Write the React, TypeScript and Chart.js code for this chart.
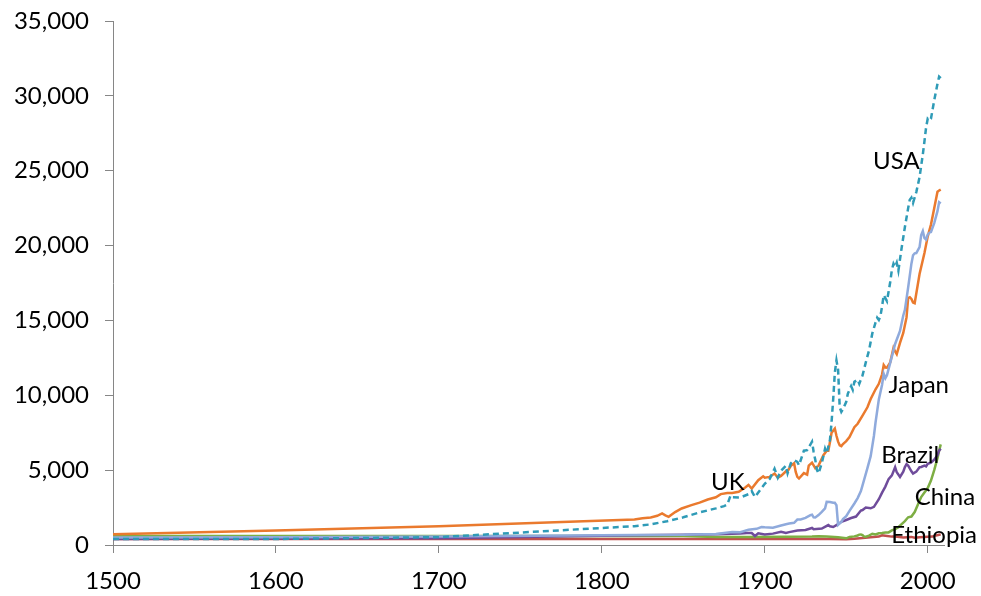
import React, { useEffect, useRef } from "react";
import { Chart, registerables } from "chart.js";

Chart.register(...registerables);

// ---- Data (GDP per capita) ----
const usaYears = [1500,1600,1700,1820,1830,1840,1850,1860,1870,1875,1877,1879,1880,1885,1890,1892,1894,1896,1900,1903,1906,1908,1910,1913,1914,1916,1918,1920,1921,1924,1926,1929,1930,1931,1932,1933,1935,1937,1938,1940,1941,1942,1943,1944,1945,1946,1947,1948,1950,1951,1953,1954,1955,1957,1958,1960,1962,1964,1966,1968,1969,1970,1971,1972,1973,1974,1975,1977,1978,1979,1980,1981,1982,1984,1986,1988,1989,1990,1991,1993,1995,1997,1998,1999,2000,2001,2002,2004,2006,2007,2008];
const usaValues = [400,400,527,1257,1376,1588,1849,2178,2445,2599,2700,3300,3184,3178,3392,3600,3200,3500,4091,4400,5100,4500,4964,5301,4799,5459,5659,5552,5323,6300,6338,6899,6213,5691,5019,4777,5467,6430,6126,7010,8206,9741,11518,12333,11709,9197,8886,9065,9561,10116,10613,10359,10897,11050,10773,11328,12196,13000,14134,14863,15179,15030,15304,15944,16689,16491,16284,17567,18373,18789,18577,18856,18325,19847,21236,22499,23059,23201,22849,23572,24569,26086,26960,27878,28467,28354,28474,29700,30800,31282,31178];

const ukYears = [1500,1600,1700,1820,1825,1830,1834,1837,1839,1841,1845,1849,1855,1860,1865,1870,1873,1877,1880,1884,1888,1890,1892,1896,1899,1900,1903,1906,1908,1910,1913,1914,1916,1918,1919,1920,1921,1924,1926,1927,1929,1931,1933,1936,1938,1939,1940,1941,1943,1944,1945,1946,1947,1948,1950,1952,1955,1957,1960,1963,1965,1968,1970,1972,1973,1974,1975,1977,1979,1980,1981,1983,1985,1987,1988,1989,1990,1991,1992,1995,1998,2000,2002,2004,2006,2007,2008];
const ukValues = [714,974,1250,1706,1780,1840,1950,2110,1980,1880,2200,2440,2660,2830,3040,3190,3400,3480,3477,3560,3840,4009,3770,4330,4590,4492,4550,4770,4500,4611,4921,4927,5288,5459,4883,4548,4439,4800,4700,5300,5503,5138,5300,6000,6300,6300,6856,7500,7780,7300,6900,6660,6604,6746,6939,7210,7868,8100,8645,9200,9752,10400,10767,11400,12025,11859,11847,12200,13167,12931,12747,13500,14165,15200,16500,16550,16430,16200,16150,18100,19500,20600,21400,22500,23600,23679,23742];

const japanYears = [1500,1600,1700,1820,1850,1870,1875,1880,1885,1890,1895,1898,1900,1905,1910,1913,1915,1918,1920,1922,1925,1928,1929,1930,1931,1933,1935,1937,1938,1940,1942,1943,1944,1945,1946,1947,1948,1950,1952,1955,1957,1959,1960,1963,1965,1967,1968,1970,1972,1973,1974,1975,1978,1980,1983,1985,1986,1988,1990,1991,1992,1993,1995,1996,1997,1998,1999,2000,2001,2002,2004,2006,2007,2008];
const japanValues = [500,520,570,669,679,737,800,863,853,1012,1080,1200,1180,1148,1304,1387,1430,1480,1696,1700,1808,2000,2026,1850,1837,2000,2220,2450,2880,2874,2818,2822,2659,1346,1444,1541,1725,1921,2277,2771,3136,3600,3986,5129,5934,7300,8200,9714,10700,11434,11145,11344,12585,13428,14300,15331,15700,17200,18789,19355,19482,19500,19900,20700,20970,20500,20400,20738,20860,20900,21500,22300,22900,22816];

const brazilYears = [1500,1600,1700,1820,1850,1870,1880,1885,1889,1892,1894,1896,1900,1905,1910,1913,1915,1920,1925,1929,1930,1935,1939,1940,1942,1945,1947,1950,1953,1956,1959,1960,1962,1965,1967,1970,1972,1974,1976,1978,1980,1981,1983,1985,1986,1987,1988,1990,1991,1993,1995,1996,1998,1999,2000,2002,2004,2006,2007,2008];
const brazilValues = [400,428,459,646,680,713,750,770,794,800,600,780,700,760,890,811,860,963,1000,1137,1048,1100,1330,1250,1200,1390,1550,1672,1800,1900,2300,2335,2500,2450,2550,3057,3500,3900,4400,4650,5195,4856,4550,4900,5210,5395,5300,4920,4770,4900,5200,5210,5300,5250,5418,5500,5700,6000,6300,6429];

const chinaYears = [1500,1600,1700,1820,1850,1870,1890,1913,1929,1933,1938,1945,1950,1952,1955,1957,1958,1959,1960,1961,1962,1964,1966,1968,1970,1972,1974,1976,1978,1980,1982,1984,1986,1988,1990,1992,1994,1996,1998,2000,2002,2004,2006,2007,2008];
const chinaValues = [600,600,600,600,600,530,540,552,562,580,560,520,448,538,575,637,693,697,662,559,553,626,753,700,778,795,830,840,978,1061,1190,1400,1600,1850,1900,2200,2700,3200,3500,3800,4300,5000,5800,6300,6725];

const ethiopiaYears = [1500,1600,1700,1820,1900,1913,1940,1950,1955,1960,1965,1970,1972,1974,1978,1980,1985,1990,1992,1995,2000,2003,2005,2007,2008];
const ethiopiaValues = [400,400,400,400,400,400,400,390,420,468,520,564,650,620,560,572,500,541,480,510,555,560,640,690,700];

// Country labels, anchored (left, baseline) in data units
const labelNames = ["USA", "Japan", "UK", "Brazil", "China", "Ethiopia"];
const labelYears = [1966.5, 1976, 1867, 1971.5, 1992, 1977.6];
const labelValues = [25100, 10120, 3660, 5460, 2660, 130];

// Axis ticks
const xTickValues = [1500, 1600, 1700, 1800, 1900, 2000];
const xMin = 1500;
const xMax = 2010;
const yTickValues = [0, 5000, 10000, 15000, 20000, 25000, 30000, 35000];

const FONT = "Lato, 'Liberation Sans', sans-serif";

function pts(years: number[], values: number[]) {
  return years.map((x, i) => ({ x, y: values[i] }));
}

const labelPlugin = {
  id: "countryLabels",
  afterDatasetsDraw(chart: any) {
    const { ctx, scales } = chart;
    ctx.save();
    ctx.font = `24px ${FONT}`;
    ctx.fillStyle = "#000000";
    ctx.textAlign = "left";
    ctx.textBaseline = "alphabetic";
    labelNames.forEach((name, i) => {
      const px = scales.x.getPixelForValue(labelYears[i]);
      const py = scales.y.getPixelForValue(labelValues[i]);
      ctx.fillText(name, px, py);
    });
    ctx.restore();
  },
};

export default function App() {
  const canvasRef = useRef<HTMLCanvasElement | null>(null);

  useEffect(() => {
    if (!canvasRef.current) return;
    const axisColor = "#868686";
    const base = { pointRadius: 0, borderWidth: 2.5, tension: 0, fill: false };
    const chart = new Chart(canvasRef.current, {
      type: "line",
      data: {
        datasets: [
          { ...base, label: "USA", data: pts(usaYears, usaValues), borderColor: "#2F9BB7", borderDash: [6, 4] },
          { ...base, label: "Japan", data: pts(japanYears, japanValues), borderColor: "#8FAADC" },
          { ...base, label: "UK", data: pts(ukYears, ukValues), borderColor: "#EA7A2E" },
          { ...base, label: "Brazil", data: pts(brazilYears, brazilValues), borderColor: "#6F4C9B" },
          { ...base, label: "China", data: pts(chinaYears, chinaValues), borderColor: "#7DAE43" },
          { ...base, label: "Ethiopia", data: pts(ethiopiaYears, ethiopiaValues), borderColor: "#C0504D" },
        ],
      },
      options: {
        responsive: false,
        animation: false,
        devicePixelRatio: 1,
        parsing: false as any,
        layout: { padding: { top: 21, right: 37, left: 0, bottom: 0 } },
        plugins: { legend: { display: false }, tooltip: { enabled: false } },
        scales: {
          x: {
            type: "linear",
            min: xMin,
            max: xMax,
            border: { display: true, color: axisColor, width: 1 },
            grid: { display: true, drawOnChartArea: false, drawTicks: true, tickLength: 8, color: axisColor },
            ticks: {
              padding: 14,
              color: "#000000",
              font: { family: FONT, size: 24 },
              maxRotation: 0,
              autoSkip: false,
              callback: (v: any) => String(v),
            },
            afterBuildTicks: (s: any) => { s.ticks = xTickValues.map((value) => ({ value })); },
            afterFit: (s: any) => { s.height = 51; s.paddingLeft = 0; s.paddingRight = 0; },
          },
          y: {
            type: "linear",
            min: 0,
            max: 35000,
            border: { display: true, color: axisColor, width: 1 },
            grid: { display: true, drawOnChartArea: false, drawTicks: true, tickLength: 8, color: axisColor },
            ticks: {
              padding: 16,
              color: "#000000",
              font: { family: FONT, size: 24 },
              autoSkip: false,
              callback: (v: any) => Number(v).toLocaleString("en-US"),
            },
            afterBuildTicks: (s: any) => { s.ticks = yTickValues.map((value) => ({ value })); },
            afterFit: (s: any) => { s.width = 113; s.paddingTop = 0; s.paddingBottom = 0; },
          },
        },
      },
      plugins: [labelPlugin],
    });
    return () => chart.destroy();
  }, []);

  return (
    <div style={{ position: "fixed", left: 0, top: 0, width: 981, height: 596, background: "#ffffff" }}>
      <canvas ref={canvasRef} width={981} height={596} style={{ display: "block" }} />
    </div>
  );
}
